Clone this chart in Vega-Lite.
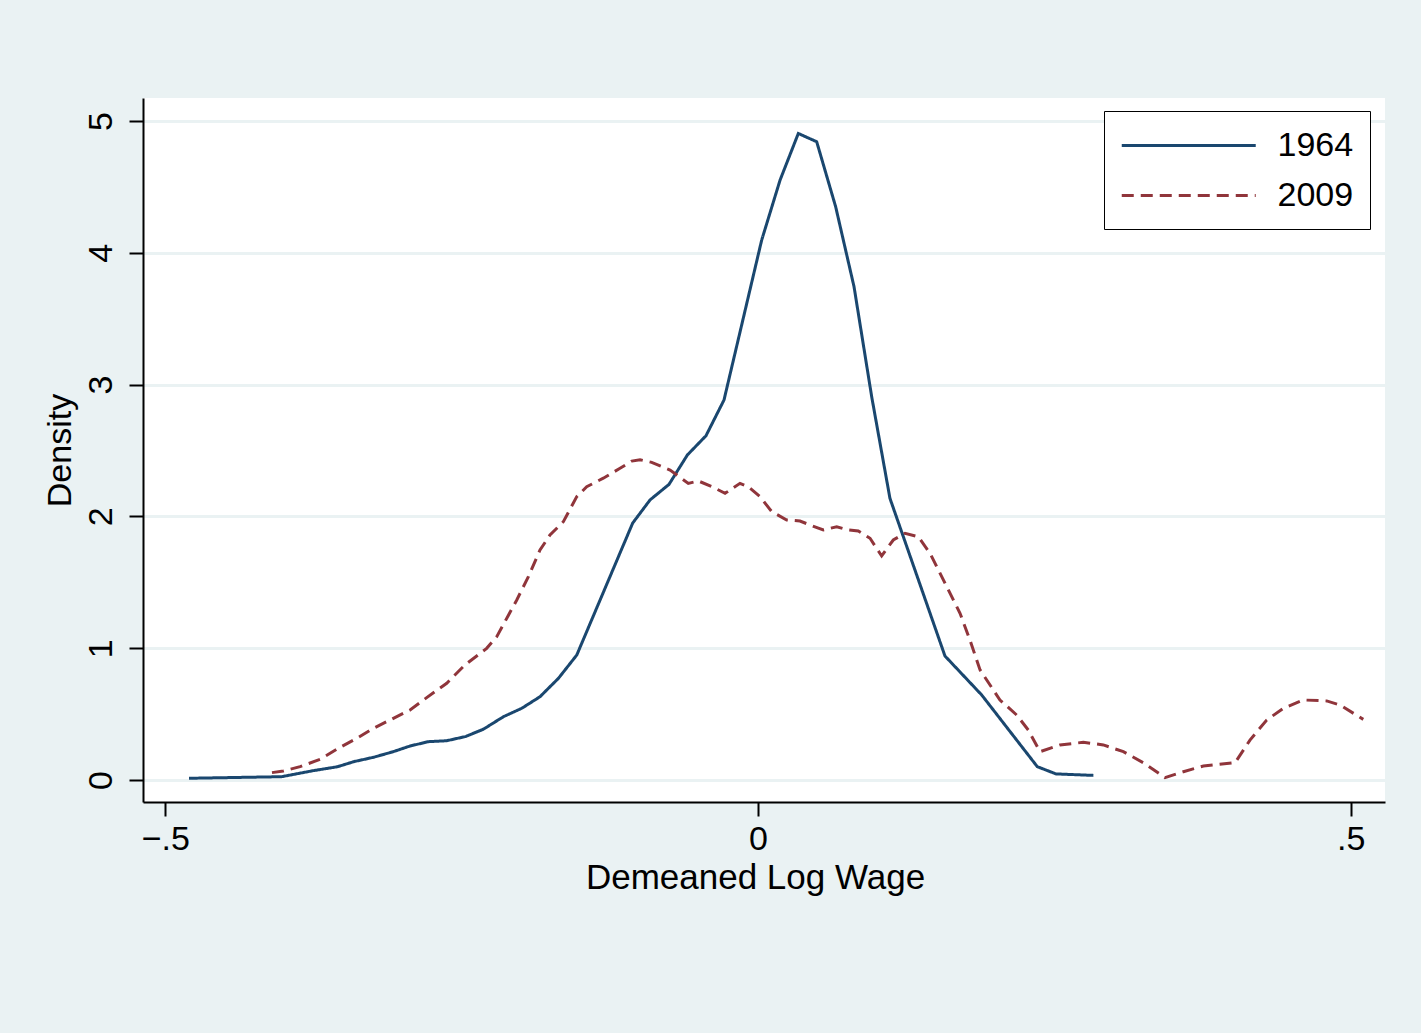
{
  "$schema": "https://vega.github.io/schema/vega-lite/v6.json",
  "width": 1242,
  "height": 704,
  "autosize": {"type": "none"},
  "padding": {"left": 143, "top": 98, "right": 36, "bottom": 231},
  "background": "#EAF2F3",
  "config": {
    "font": "Liberation Sans",
    "view": {"fill": "white", "stroke": null}
  },
  "datasets": {
    "kd": [
      {"year": "1964", "x": -0.480, "density": 0.013},
      {"year": "1964", "x": -0.402, "density": 0.025},
      {"year": "1964", "x": -0.375, "density": 0.071},
      {"year": "1964", "x": -0.355, "density": 0.100},
      {"year": "1964", "x": -0.341, "density": 0.139},
      {"year": "1964", "x": -0.3245, "density": 0.172},
      {"year": "1964", "x": -0.3076, "density": 0.215},
      {"year": "1964", "x": -0.2935, "density": 0.258},
      {"year": "1964", "x": -0.278, "density": 0.291},
      {"year": "1964", "x": -0.2626, "density": 0.298},
      {"year": "1964", "x": -0.247, "density": 0.329},
      {"year": "1964", "x": -0.2317, "density": 0.385},
      {"year": "1964", "x": -0.2148, "density": 0.480},
      {"year": "1964", "x": -0.1993, "density": 0.544},
      {"year": "1964", "x": -0.1839, "density": 0.632},
      {"year": "1964", "x": -0.1684, "density": 0.771},
      {"year": "1964", "x": -0.1529, "density": 0.948},
      {"year": "1964", "x": -0.1057, "density": 1.950},
      {"year": "1964", "x": -0.0911, "density": 2.125},
      {"year": "1964", "x": -0.0751, "density": 2.243},
      {"year": "1964", "x": -0.0596, "density": 2.466},
      {"year": "1964", "x": -0.0439, "density": 2.612},
      {"year": "1964", "x": -0.0287, "density": 2.883},
      {"year": "1964", "x": 0.0031, "density": 4.097},
      {"year": "1964", "x": 0.0186, "density": 4.552},
      {"year": "1964", "x": 0.034, "density": 4.906},
      {"year": "1964", "x": 0.0495, "density": 4.843},
      {"year": "1964", "x": 0.0655, "density": 4.350},
      {"year": "1964", "x": 0.081, "density": 3.743},
      {"year": "1964", "x": 0.0959, "density": 2.908},
      {"year": "1964", "x": 0.1113, "density": 2.137},
      {"year": "1964", "x": 0.1577, "density": 0.941},
      {"year": "1964", "x": 0.1887, "density": 0.645},
      {"year": "1964", "x": 0.2356, "density": 0.101},
      {"year": "1964", "x": 0.2514, "density": 0.046},
      {"year": "1964", "x": 0.2829, "density": 0.035},
      {"year": "2009", "x": -0.410, "density": 0.056},
      {"year": "2009", "x": -0.4004, "density": 0.068},
      {"year": "2009", "x": -0.3863, "density": 0.101},
      {"year": "2009", "x": -0.3695, "density": 0.157},
      {"year": "2009", "x": -0.3526, "density": 0.248},
      {"year": "2009", "x": -0.3385, "density": 0.316},
      {"year": "2009", "x": -0.3245, "density": 0.392},
      {"year": "2009", "x": -0.3076, "density": 0.468},
      {"year": "2009", "x": -0.2935, "density": 0.531},
      {"year": "2009", "x": -0.2795, "density": 0.625},
      {"year": "2009", "x": -0.2626, "density": 0.734},
      {"year": "2009", "x": -0.2472, "density": 0.873},
      {"year": "2009", "x": -0.2289, "density": 0.999},
      {"year": "2009", "x": -0.2204, "density": 1.088},
      {"year": "2009", "x": -0.2035, "density": 1.366},
      {"year": "2009", "x": -0.1937, "density": 1.543},
      {"year": "2009", "x": -0.1839, "density": 1.745},
      {"year": "2009", "x": -0.1755, "density": 1.859},
      {"year": "2009", "x": -0.1642, "density": 1.960},
      {"year": "2009", "x": -0.1529, "density": 2.150},
      {"year": "2009", "x": -0.1445, "density": 2.225},
      {"year": "2009", "x": -0.1305, "density": 2.290},
      {"year": "2009", "x": -0.1164, "density": 2.365},
      {"year": "2009", "x": -0.1065, "density": 2.420},
      {"year": "2009", "x": -0.0995, "density": 2.430},
      {"year": "2009", "x": -0.0897, "density": 2.410},
      {"year": "2009", "x": -0.0742, "density": 2.352},
      {"year": "2009", "x": -0.0588, "density": 2.251},
      {"year": "2009", "x": -0.0503, "density": 2.269},
      {"year": "2009", "x": -0.0377, "density": 2.221},
      {"year": "2009", "x": -0.0278, "density": 2.175},
      {"year": "2009", "x": -0.0152, "density": 2.251},
      {"year": "2009", "x": -0.0082, "density": 2.225},
      {"year": "2009", "x": 0.0017, "density": 2.150},
      {"year": "2009", "x": 0.0116, "density": 2.036},
      {"year": "2009", "x": 0.0242, "density": 1.973},
      {"year": "2009", "x": 0.0354, "density": 1.965},
      {"year": "2009", "x": 0.0439, "density": 1.935},
      {"year": "2009", "x": 0.0551, "density": 1.897},
      {"year": "2009", "x": 0.0664, "density": 1.922},
      {"year": "2009", "x": 0.0762, "density": 1.897},
      {"year": "2009", "x": 0.0846, "density": 1.889},
      {"year": "2009", "x": 0.0945, "density": 1.834},
      {"year": "2009", "x": 0.1043, "density": 1.700},
      {"year": "2009", "x": 0.1141, "density": 1.821},
      {"year": "2009", "x": 0.124, "density": 1.872},
      {"year": "2009", "x": 0.1352, "density": 1.846},
      {"year": "2009", "x": 0.1451, "density": 1.720},
      {"year": "2009", "x": 0.1592, "density": 1.467},
      {"year": "2009", "x": 0.1704, "density": 1.265},
      {"year": "2009", "x": 0.1788, "density": 1.062},
      {"year": "2009", "x": 0.1873, "density": 0.835},
      {"year": "2009", "x": 0.2041, "density": 0.607},
      {"year": "2009", "x": 0.2182, "density": 0.493},
      {"year": "2009", "x": 0.228, "density": 0.379},
      {"year": "2009", "x": 0.2379, "density": 0.215},
      {"year": "2009", "x": 0.2547, "density": 0.266},
      {"year": "2009", "x": 0.2744, "density": 0.286},
      {"year": "2009", "x": 0.2913, "density": 0.266},
      {"year": "2009", "x": 0.3082, "density": 0.215},
      {"year": "2009", "x": 0.325, "density": 0.131},
      {"year": "2009", "x": 0.3433, "density": 0.018},
      {"year": "2009", "x": 0.3588, "density": 0.063},
      {"year": "2009", "x": 0.3757, "density": 0.106},
      {"year": "2009", "x": 0.4024, "density": 0.131},
      {"year": "2009", "x": 0.415, "density": 0.303},
      {"year": "2009", "x": 0.4291, "density": 0.455},
      {"year": "2009", "x": 0.4431, "density": 0.544},
      {"year": "2009", "x": 0.46, "density": 0.607},
      {"year": "2009", "x": 0.4797, "density": 0.600},
      {"year": "2009", "x": 0.4909, "density": 0.569},
      {"year": "2009", "x": 0.5106, "density": 0.460}
    ]
  },
  "data": {"name": "kd"},
  "mark": {"type": "line", "strokeWidth": 3, "clip": true},
  "encoding": {
    "x": {
      "field": "x",
      "type": "quantitative",
      "scale": {"domain": [-0.5188, 0.5289], "nice": false, "zero": false},
      "axis": {
        "title": "Demeaned Log Wage",
        "values": [-0.5, 0, 0.5],
        "labelExpr": "datum.value < 0 ? '−.5' : (datum.value > 0 ? '.5' : '0')",
        "grid": false,
        "domainColor": "black",
        "domainWidth": 2,
        "tickColor": "black",
        "tickWidth": 2,
        "tickSize": 14,
        "labelFontSize": 34,
        "labelColor": "black",
        "labelBaseline": "alphabetic",
        "labelPadding": 33,
        "labelFlush": false,
        "titleFontSize": 35,
        "titleFontWeight": "normal",
        "titleColor": "black",
        "titleBaseline": "alphabetic",
        "titleAnchor": "start",
        "titleAlign": "center",
        "titleX": 612,
        "titleY": 86
      }
    },
    "y": {
      "field": "density",
      "type": "quantitative",
      "scale": {"domain": [-0.167, 5.175], "nice": false, "zero": false},
      "axis": {
        "title": "Density",
        "values": [0, 1, 2, 3, 4, 5],
        "grid": true,
        "gridColor": "#EAF2F3",
        "gridWidth": 3,
        "domainColor": "black",
        "domainWidth": 2,
        "tickColor": "black",
        "tickWidth": 2,
        "tickSize": 14,
        "labelFontSize": 34,
        "labelColor": "black",
        "labelAngle": -90,
        "labelAlign": "center",
        "labelBaseline": "alphabetic",
        "labelPadding": 18,
        "labelFlush": false,
        "titleFontSize": 34,
        "titleFontWeight": "normal",
        "titleColor": "black",
        "titleAngle": -90,
        "titleAlign": "center",
        "titleBaseline": "alphabetic",
        "titleAnchor": "start",
        "titleX": -73,
        "titleY": 352
      }
    },
    "color": {
      "field": "year",
      "type": "nominal",
      "scale": {"domain": ["1964", "2009"], "range": ["#1a476f", "#90353b"]},
      "legend": {
        "title": null,
        "orient": "none",
        "legendX": 961,
        "legendY": 13,
        "fillColor": "white",
        "strokeColor": "black",
        "padding": 16,
        "labelFontSize": 34,
        "labelColor": "black",
        "labelOffset": 120.5,
        "rowPadding": 14,
        "symbolType": "M-1,0L7,0",
        "symbolSize": 1122,
        "symbolStrokeWidth": 3
      }
    },
    "strokeDash": {
      "field": "year",
      "type": "nominal",
      "scale": {"domain": ["1964", "2009"], "range": [[1, 0], [12, 7]]},
      "legend": {
        "title": null,
        "orient": "none",
        "legendX": 961,
        "legendY": 13,
        "fillColor": "white",
        "strokeColor": "black",
        "padding": 16,
        "labelFontSize": 34,
        "labelColor": "black",
        "labelOffset": 120.5,
        "rowPadding": 14,
        "symbolType": "M-1,0L7,0",
        "symbolSize": 1122,
        "symbolStrokeWidth": 3
      }
    }
  }
}
